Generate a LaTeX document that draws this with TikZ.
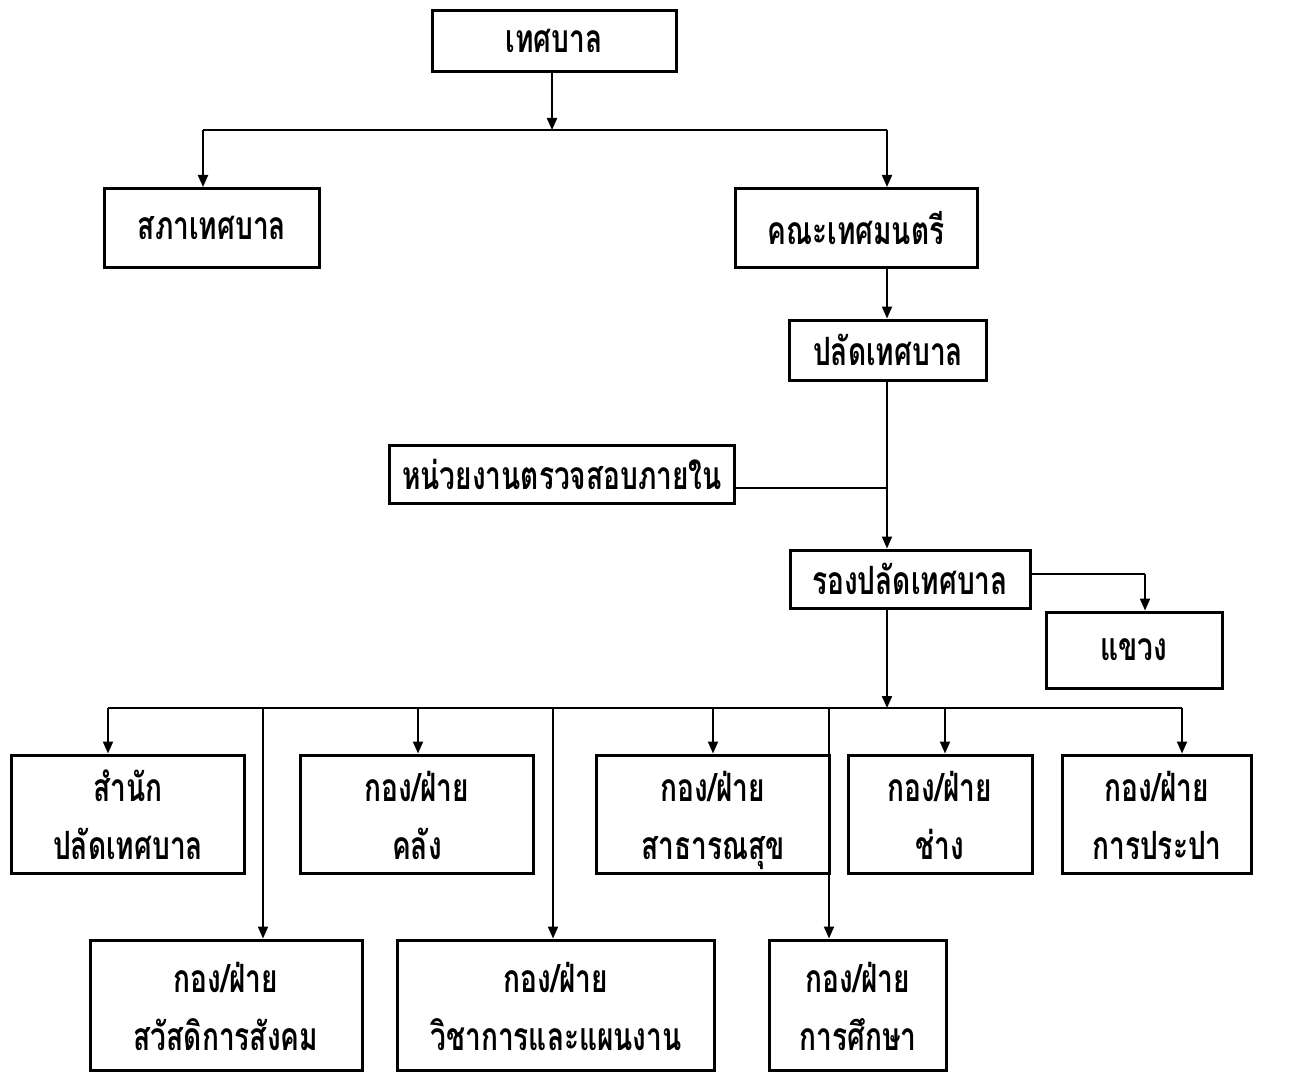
\documentclass[tikz,border=0pt]{standalone}
\usepackage{fontspec}
\newfontfamily\thaifont[Script=Thai,FakeStretch=0.72]{Loma}
\usetikzlibrary{arrows.meta}
\newcommand\lstrut{\rule[-12pt]{0pt}{56pt}}
\begin{document}
\begin{tikzpicture}[x=1pt,y=-1pt,
  box/.style={draw, line width=3pt, inner sep=0pt, align=center,
    font=\thaifont\bfseries\fontsize{39}{58}\selectfont},
  conn/.style={line width=2pt},
  arr/.style={line width=2pt, -{Triangle[length=12pt,width=10pt]}}]
\useasboundingbox (0,0) rectangle (1289,1075);
% nodes
\node[box, minimum width=244pt, minimum height=61pt] (top) at (554,41) {เทศบาล};
\node[box, minimum width=215pt, minimum height=79pt] (sapha) at (212,228) {สภาเทศบาล};
\node[box, minimum width=242pt, minimum height=79pt] (khana) at (856,228) {คณะเทศมนตรี};
\node[box, minimum width=197pt, minimum height=60pt] (palad) at (888,350) {ปลัดเทศบาล};
\node[box, minimum width=345pt, minimum height=58pt] (audit) at (562,474) {หน่วยงานตรวจสอบภายใน};
\node[box, minimum width=240pt, minimum height=58pt] (rong) at (910,579) {รองปลัดเทศบาล};
\node[box, minimum width=176pt, minimum height=76pt] (khwaeng) at (1134,650) {แขวง};
\node[box, minimum width=233pt, minimum height=118pt] (b1) at (128,814) {\lstrut สำนัก\\\lstrut ปลัดเทศบาล};
\node[box, minimum width=233pt, minimum height=118pt] (b2) at (417,814) {\lstrut กอง/ฝ่าย\\\lstrut คลัง};
\node[box, minimum width=233pt, minimum height=118pt] (b3) at (713,814) {\lstrut กอง/ฝ่าย\\\lstrut สาธารณสุข};
\node[box, minimum width=184pt, minimum height=118pt] (b4) at (940,814) {\lstrut กอง/ฝ่าย\\\lstrut ช่าง};
\node[box, minimum width=189pt, minimum height=118pt] (b5) at (1157,814) {\lstrut กอง/ฝ่าย\\\lstrut การประปา};
\node[box, minimum width=272pt, minimum height=130pt] (c1) at (226,1005) {\lstrut กอง/ฝ่าย\\\lstrut สวัสดิการสังคม};
\node[box, minimum width=317pt, minimum height=130pt] (c2) at (556,1005) {\lstrut กอง/ฝ่าย\\\lstrut วิชาการและแผนงาน};
\node[box, minimum width=177pt, minimum height=130pt] (c3) at (858,1005) {\lstrut กอง/ฝ่าย\\\lstrut การศึกษา};
% junctions
\coordinate (j1) at (552,130);
\coordinate (j1a) at (203,130);
\coordinate (j1b) at (887,130);
\coordinate (jk) at (887,267);
\coordinate (jp) at (887,380);
\coordinate (ja) at (887,488);
\coordinate (jr) at (887,608);
\coordinate (jw) at (1145,574);
\coordinate (bus) at (887,708);
\coordinate (busl) at (108,708);
\coordinate (busr) at (1182,708);
% connectors
\draw[arr] (top.south -| j1) -- (j1);
\draw[conn] (j1a) -- (j1b);
\draw[arr] (j1a) -- (sapha.north -| j1a);
\draw[arr] (j1b) -- (khana.north -| j1b);
\draw[arr] (khana.south -| jk) -- (palad.north -| jk);
\draw[arr] (palad.south -| jp) -- (rong.north -| jp);
\draw[conn] (audit.east |- ja) -- (ja);
\draw[conn] (rong.east |- jw) -- (jw);
\draw[arr] (jw) -- (khwaeng.north -| jw);
\draw[arr] (rong.south -| jr) -- (bus);
\draw[conn] (busl) -- (busr);
\draw[arr] (busl) -- (b1.north -| busl);
\draw[arr] (bus -| 418,0) -- (b2.north -| 418,0);
\draw[arr] (bus -| 713,0) -- (b3.north -| 713,0);
\draw[arr] (bus -| 945,0) -- (b4.north -| 945,0);
\draw[arr] (busr) -- (b5.north -| busr);
\draw[arr] (bus -| 263,0) -- (c1.north -| 263,0);
\draw[arr] (bus -| 553,0) -- (c2.north -| 553,0);
\draw[arr] (bus -| 829,0) -- (c3.north -| 829,0);
\end{tikzpicture}
\end{document}
